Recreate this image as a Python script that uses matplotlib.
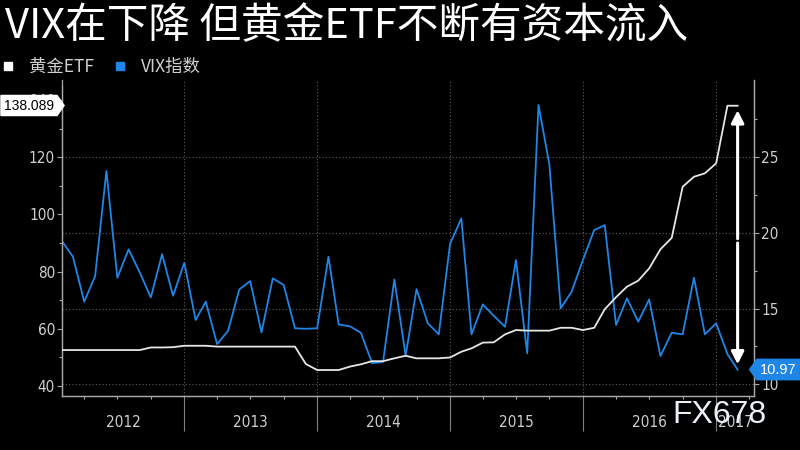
import matplotlib
matplotlib.use('Agg')
import matplotlib.pyplot as plt
import matplotlib.dates as mdates
import pandas as pd
from matplotlib import font_manager
from matplotlib.lines import Line2D
from matplotlib.path import Path
from matplotlib.ticker import MultipleLocator

# monthly points, Feb 2012 - Mar 2017
months = pd.date_range('2012-02-01', '2017-03-01', freq='MS')

vix = [19.42, 18.43, 15.46, 17.15, 24.09, 17.04, 18.92, 17.37, 15.74, 18.60,
       15.85, 18.03, 14.25, 15.46, 12.66, 13.52, 16.27, 16.82, 13.43, 17.00,
       16.56, 13.70, 13.67, 13.70, 18.43, 13.96, 13.83, 13.41, 11.39, 11.49,
       16.93, 11.89, 16.29, 14.03, 13.30, 19.27, 20.96, 13.30, 15.28, 14.53,
       13.80, 18.21, 12.05, 28.45, 24.49, 15.02, 16.12, 18.21, 20.19, 20.52,
       13.92, 15.68, 14.14, 15.61, 11.87, 13.41, 13.30, 17.04, 13.30, 14.03,
       12.00, 10.97]

gold_etf = [52.5, 52.5, 52.5, 52.5, 52.5, 52.5, 52.5, 52.5, 53.4, 53.4,
            53.5, 54.0, 54.0, 54.0, 53.7, 53.7, 53.7, 53.7, 53.7, 53.7,
            53.7, 53.7, 47.6, 45.5, 45.5, 45.5, 46.7, 47.5, 48.6, 48.6,
            49.6, 50.5, 49.6, 49.6, 49.6, 49.9, 51.9, 53.1, 55.1, 55.2,
            58.0, 59.5, 59.3, 59.3, 59.3, 60.3, 60.3, 59.5, 60.3, 66.8,
            71.0, 74.7, 76.8, 81.1, 87.8, 91.8, 109.7, 113.2, 114.4, 117.9,
            138.089, 138.089]

years = [2012, 2013, 2014, 2015, 2016, 2017]
title = 'VIX在下降 但黄金ETF不断有资本流入'
legend_labels = ['黄金ETF', 'VIX指数']

BLUE = '#1f86e8'
WHITE = '#e6e6e6'
GRID = '#5c5c5c'
TICK = '#a8a8a8'
LABEL = '#d0d0d0'

have = {f.name for f in font_manager.fontManager.ttflist}
narrow = 'Liberation Sans Narrow' if 'Liberation Sans Narrow' in have else 'DejaVu Sans'
regular = 'Liberation Sans' if 'Liberation Sans' in have else 'DejaVu Sans'
cjk = ['Noto Sans CJK SC', 'DejaVu Sans']
plt.rcParams['font.family'] = [narrow, 'DejaVu Sans']
plt.rcParams['font.stretch'] = 'condensed'


def tag_box(side):
    # label box with a pointed end, like the value tags on the axes
    def style(x0, y0, width, height, mutation_size):
        pad = 0.22 * mutation_size
        x0, y0 = x0 - pad, y0 - pad
        x1, y1 = x0 + width + 2 * pad, y0 + height + 2 * pad
        ym = (y0 + y1) / 2
        tip = (y1 - y0) * 0.35
        if side == 'right':
            verts = [(x0, y0), (x1, y0), (x1 + tip, ym), (x1, y1), (x0, y1), (x0, y0)]
        else:
            verts = [(x0, y0), (x1, y0), (x1, y1), (x0, y1), (x0 - tip, ym), (x0, y0)]
        return Path(verts, closed=True)
    return style


fig = plt.figure(figsize=(8, 4.5), dpi=100, facecolor='black')
ax = fig.add_axes([62 / 800, 1 - 396 / 450, (754 - 62) / 800, (396 - 80) / 450])
ax.set_facecolor('black')
ax2 = ax.twinx()
# VIX on the host axes (right scale), gold ETF on the twin (left scale)
ax.yaxis.tick_right()
ax2.yaxis.tick_left()

ax.plot(months, vix, color=BLUE, lw=1.3, zorder=3)
ax2.plot(months, gold_etf, color=WHITE, lw=1.3, zorder=3)

x0 = mdates.date2num(pd.Timestamp('2012-02-01')) - 1
x1 = mdates.date2num(pd.Timestamp('2017-04-15'))
ax.set_xlim(x0, x1)
ax.set_ylim(9.23, 30.1)
ax2.set_ylim(36.4, 147.1)

# right axis
ax.set_yticks([10, 15, 20, 25])
ax.set_yticks([12.5, 17.5, 22.5, 27.5], minor=True)
ax.grid(axis='y', which='major', color=GRID, ls=(0, (1, 2)), lw=0.8)
ax.set_axisbelow(True)

# left axis
ax2.set_yticks([40, 60, 80, 100, 120, 140])
ax2.set_yticks([50, 70, 90, 110, 130], minor=True)
ax2.spines['left'].set_bounds(36.4, 145)

# x axis: long ticks at year starts, short quarterly ticks
year_starts = [mdates.date2num(pd.Timestamp(f'{y}-01-01')) for y in years[1:]]
quarters = [mdates.date2num(d) for d in pd.date_range('2012-04-01', '2017-04-01', freq='QS')]
ax.set_xticks(year_starts)
ax.set_xticks(quarters, minor=True)
ax.set_xticklabels([])
ax.tick_params(axis='x', which='major', length=25, width=0.8, color='#808080')
ax.tick_params(axis='x', which='minor', length=2.5, width=0.8, color=TICK)
for xs in year_starts:
    ax.axvline(xs, color=GRID, ls=(0, (1, 2)), lw=0.8, zorder=0.5)

for a in (ax, ax2):
    a.tick_params(axis='y', which='major', length=3.5, width=0.8, color=TICK,
                  labelcolor=LABEL, labelsize=11, pad=1.5)
    a.tick_params(axis='y', which='minor', length=2, width=0.8, color=TICK)
    a.spines['top'].set_visible(False)
    for s in ('left', 'right', 'bottom'):
        a.spines[s].set_color(TICK)
        a.spines[s].set_linewidth(0.9)

# year labels centred on the visible part of each year
edges = [x0] + year_starts + [x1]
for i, y in enumerate(years):
    mid = (edges[i] + edges[i + 1]) / 2
    ax.text(mid, -0.085, str(y), transform=ax.get_xaxis_transform(),
            ha='center', va='center', color=LABEL, fontsize=11)

# double arrow at the last month
xa = months[-1]
ax2.annotate('', xy=(xa, 136.5), xytext=(xa, 91.5),
             arrowprops=dict(arrowstyle='-|>,head_length=0.75,head_width=0.38',
                             color='white', lw=2.2, shrinkA=0, shrinkB=0))
ax2.annotate('', xy=(xa, 47.5), xytext=(xa, 90.0),
             arrowprops=dict(arrowstyle='-|>,head_length=0.75,head_width=0.38',
                             color='white', lw=2.2, shrinkA=0, shrinkB=0))

# value tags
fig.text(54 / 800, 1 - 105.5 / 450, f'{gold_etf[-1]:.3f}', ha='right', va='center',
         fontsize=10, family=regular, fontstretch='normal', color='black',
         bbox=dict(boxstyle=tag_box('right'), fc='white', ec='white'))
fig.text(760 / 800, 1 - 369.5 / 450, f'{vix[-1]:.2f}', ha='left', va='center',
         fontsize=10.5, family=regular, fontstretch='normal', color='white',
         bbox=dict(boxstyle=tag_box('left'), fc=BLUE, ec=BLUE))

# title and legend
fig.text(0.006, 1 - 27 / 450, title, family=cjk, fontsize=30, fontstretch='normal',
         color='white', va='center')
handles = [Line2D([], [], marker='s', ls='none', color='white', markersize=5.5),
           Line2D([], [], marker='s', ls='none', color=BLUE, markersize=5.5)]
fig.legend(handles, legend_labels, loc='center left', bbox_to_anchor=(1.5 / 800, 1 - 67 / 450),
           ncol=2, frameon=False, prop=dict(family=cjk, size=12.5, stretch='normal'),
           labelcolor=LABEL, handlelength=0.8, handletextpad=0.8, columnspacing=1.1,
           borderpad=0, borderaxespad=0)

# watermark
fig.text(672 / 800, 1 - 415 / 450, 'FX678', family=regular, fontsize=23, fontstretch='normal',
         color='#eaf0f8', va='center', ha='left', zorder=10)

fig.savefig('out.png', dpi=100, facecolor='black')
